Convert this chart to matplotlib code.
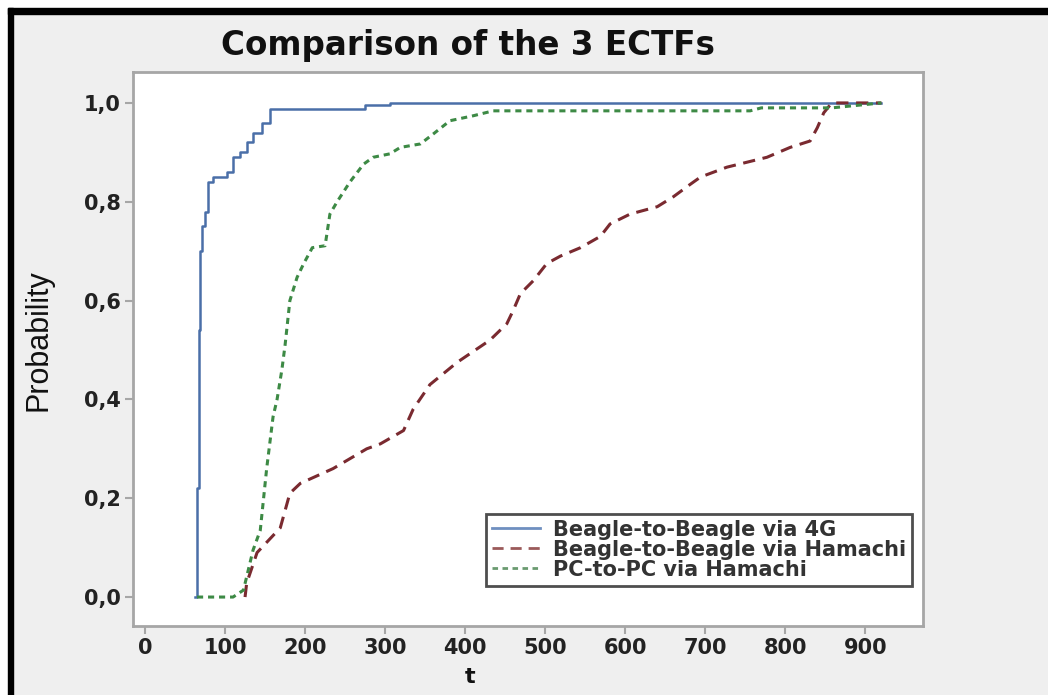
import matplotlib
matplotlib.use("Agg")
import matplotlib.pyplot as plt
from matplotlib.lines import Line2D

# ECDF points (t, probability)
t_4g = [62, 65, 67, 69, 71, 75, 79, 85, 102, 110, 119, 127, 135, 146, 156, 256, 275, 306, 920]
p_4g = [0.0, 0.22, 0.54, 0.70, 0.75, 0.78, 0.84, 0.85, 0.86, 0.89, 0.90, 0.92, 0.94, 0.96, 0.988,
        0.988, 0.995, 1.0, 1.0]

t_ham = [125, 127, 140, 169, 181, 194, 235, 277, 294, 323, 335, 356, 390, 431, 452, 460, 469,
         485, 502, 519, 544, 569, 581, 606, 640, 660, 681, 694, 727, 777, 806, 831, 840, 848, 858, 920]
p_ham = [0.0, 0.028, 0.09, 0.14, 0.21, 0.23, 0.26, 0.30, 0.31, 0.337, 0.38, 0.43, 0.475, 0.52,
         0.553, 0.58, 0.614, 0.64, 0.675, 0.69, 0.707, 0.73, 0.755, 0.775, 0.79, 0.81, 0.835,
         0.85, 0.87, 0.89, 0.91, 0.923, 0.95, 0.98, 1.0, 1.0]

t_pc = [65, 110, 123, 135, 144, 152, 160, 165, 171, 175, 181, 190, 198, 209, 225, 231, 240, 256,
        273, 285, 306, 319, 344, 360, 381, 410, 435, 756, 770, 858, 920]
p_pc = [0.0, 0.0, 0.014, 0.095, 0.135, 0.26, 0.365, 0.40, 0.46, 0.51, 0.60, 0.647, 0.674, 0.707,
        0.711, 0.775, 0.80, 0.84, 0.876, 0.89, 0.897, 0.91, 0.917, 0.937, 0.964, 0.974, 0.984,
        0.984, 0.99, 0.99, 1.0]

labels = ["Beagle-to-Beagle via 4G", "Beagle-to-Beagle via Hamachi", "PC-to-PC via Hamachi"]
x_ticks = list(range(0, 1000, 100))
y_ticks = [0.0, 0.2, 0.4, 0.6, 0.8, 1.0]
y_ticklabels = ["0,0", "0,2", "0,4", "0,6", "0,8", "1,0"]

BLUE = "#4a6fa8"
RED = "#7a2a30"
GREEN = "#3d8a45"
FRAME = "#a6a6a6"

W, H = 1048, 695
fig = plt.figure(figsize=(W / 100, H / 100), dpi=100, facecolor="#efefef")

# black frame (top and left) around the screenshot, white outside it
fig.patches.append(plt.Rectangle((0, 1 - 8 / H), 1, 8 / H, transform=fig.transFigure,
                                 color="white", zorder=0))
fig.patches.append(plt.Rectangle((0, 0), 8 / W, 1, transform=fig.transFigure,
                                 color="white", zorder=0))
fig.patches.append(plt.Rectangle((8 / W, 1 - 14 / H), 1, 6 / H, transform=fig.transFigure,
                                 color="black", zorder=1))
fig.patches.append(plt.Rectangle((8 / W, 0), 5 / W, 1 - 8 / H, transform=fig.transFigure,
                                 color="black", zorder=1))

ax = fig.add_axes([133 / W, 1 - 626 / H, (923 - 133) / W, (626 - 72) / H])
ax.set_facecolor("white")

ax.plot(t_4g, p_4g, color=BLUE, lw=1.8, drawstyle="steps-post")
ax.plot(t_ham, p_ham, color=RED, lw=2.2, dashes=(4, 2.5))
ax.plot(t_pc, p_pc, color=GREEN, lw=2.2, dashes=(2, 1.6))

ax.set_xlim(-15, 972)
ax.set_ylim(-0.0586, 1.0626)
ax.set_xticks(x_ticks)
ax.set_yticks(y_ticks)
ax.set_yticklabels(y_ticklabels)
for s in ax.spines.values():
    s.set_color(FRAME)
    s.set_linewidth(2)
ax.tick_params(direction="out", length=6, width=1.5, color=FRAME, labelsize=15,
               labelcolor="#222222", pad=3)
for lab in ax.get_xticklabels() + ax.get_yticklabels():
    lab.set_fontweight("bold")

fig.text(468 / W, 1 - 45 / H, "Comparison of the 3 ECTFs", ha="center", va="center",
         fontsize=23.5, fontweight="bold", color="#111111")
fig.text(39 / W, 1 - 340 / H, "Probability", rotation=90, ha="center", va="center",
         fontsize=22, family=["Liberation Sans Narrow", "Liberation Sans"], color="#111111")
fig.text(470 / W, 1 - 677 / H, "t", ha="center", va="center", fontsize=16,
         fontweight="bold", color="#111111")

handles = [Line2D([], [], color="#6f8fc0", lw=2),
           Line2D([], [], color="#9a5a5a", lw=2, dashes=(4, 2.5)),
           Line2D([], [], color="#6a9a70", lw=2, dashes=(2, 1.6))]
leg = ax.legend(handles, labels, loc="lower right", bbox_to_anchor=(912 / W, 1 - 586 / H),
                bbox_transform=fig.transFigure, frameon=True, fancybox=False,
                borderpad=0.3, labelspacing=0.0, handlelength=2.3, handletextpad=0.6,
                borderaxespad=0, prop={"size": 15, "weight": "bold"})
leg.get_frame().set_edgecolor("#222222")
leg.get_frame().set_linewidth(2)
for txt in leg.get_texts():
    txt.set_color("#333333")

fig.savefig("out.png", dpi=100, facecolor=fig.get_facecolor())
